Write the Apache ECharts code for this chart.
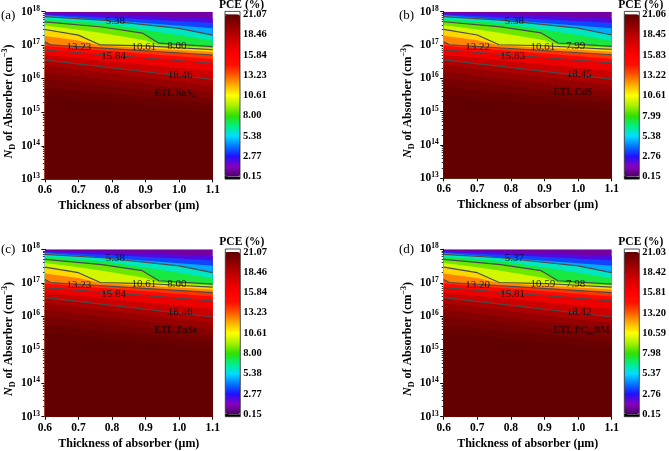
<!DOCTYPE html>
<html><head><meta charset="utf-8">
<script src="https://cdn.jsdelivr.net/npm/echarts@6/dist/echarts.min.js"></script>
<style>html,body{margin:0;padding:0;background:#fff}#c{width:669px;height:451px}</style>
</head><body><div id="c"></div>
<script>
// ---------------- data ----------------
const thicknessTicks = [0.6, 0.7, 0.8, 0.9, 1.0, 1.1];          // µm
const ndRange = [1e13, 1e18];                                   // cm^-3
const panelLetters = ['(a)', '(b)', '(c)', '(d)'];
const etlNames = [['ETL SnS', '2', ''], ['ETL CdS', '', ''], ['ETL ZnSe', '', ''], ['ETL PC', '60', 'BM']];
const pceTicksA = [0.15, 2.77, 5.38, 8.00, 10.61, 13.23, 15.84, 18.46, 21.07];
const pceTicksB = [0.15, 2.76, 5.38, 7.99, 10.61, 13.22, 15.83, 18.45, 21.06];
const pceTicksC = [0.15, 2.77, 5.38, 8.00, 10.61, 13.23, 15.84, 18.46, 21.07];
const pceTicksD = [0.15, 2.76, 5.37, 7.98, 10.59, 13.20, 15.81, 18.42, 21.03];
const pceTicks = [pceTicksA, pceTicksB, pceTicksC, pceTicksD];

// iso-PCE lines: [thickness (µm), N_D (cm^-3)]
const isoTop  = [[0.6, 1e18], [1.1, 1e18]];
const iso1_5  = [[0.6, 9.1e17], [0.85, 7.9e17], [1.1, 6.3e17]];
const iso2_8  = [[0.6, 8.3e17], [0.85, 6.3e17], [1.1, 4.6e17]];
const iso4_1  = [[0.6, 7.8e17], [0.85, 5.0e17], [1.1, 3.2e17]];
const iso5_4  = [[0.6, 7.1e17], [0.77, 5.6e17], [1.0, 3.2e17], [1.1, 2.0e17]];
const iso6_7  = [[0.6, 6.0e17], [0.77, 4.5e17], [1.0, 2.0e17], [1.1, 1.35e17]];
const iso8_0  = [[0.6, 5.0e17], [0.77, 3.5e17], [0.89, 2.3e17], [0.94, 1.15e17], [1.1, 9.1e16]];
const iso9_3  = [[0.6, 3.9e17], [0.7, 2.9e17], [0.77, 2.3e17], [0.9, 1.38e17], [0.94, 1.0e17], [1.1, 8.3e16]];
const iso10_6 = [[0.6, 2.95e17], [0.7, 2.0e17], [0.765, 1.02e17], [0.9, 9.5e16], [1.1, 7.4e16]];
const iso11_9 = [[0.6, 1.9e17], [0.7, 1.38e17], [0.765, 9.8e16], [1.1, 6.3e16]];
const iso13_2 = [[0.6, 1.26e17], [0.617, 1.02e17], [1.1, 5.1e16]];
const iso14_5 = [[0.6, 9.5e16], [1.1, 3.9e16]];
const iso15_8 = [[0.6, 7.2e16], [1.1, 2.9e16]];
const iso17_2 = [[0.6, 5.1e16], [1.1, 1.66e16]];
const iso18_5 = [[0.6, 3.6e16], [1.1, 9.5e15]];
const iso19_1 = [[0.6, 2.5e16], [1.1, 6.3e15]];
const iso19_8 = [[0.6, 1.6e16], [1.1, 4.0e15]];
const iso20_2 = [[0.6, 1.0e16], [1.1, 2.6e15]];
const iso20_6 = [[0.6, 5.6e15], [1.1, 1.8e15]];
const iso20_9 = [[0.6, 3.2e15], [1.1, 1.1e15]];
const bandLines = [isoTop, iso1_5, iso2_8, iso4_1, iso5_4, iso6_7, iso8_0, iso9_3, iso10_6, iso11_9, iso13_2,
                   iso14_5, iso15_8, iso17_2, iso18_5, iso19_1, iso19_8, iso20_2, iso20_6, iso20_9];
const bandLevels = [0.6, 1.46, 2.77, 4.08, 5.38, 6.69, 8.00, 9.30, 10.61, 11.92, 13.23,
                    14.53, 15.84, 17.15, 18.46, 19.1, 19.77, 20.2, 20.6, 20.9];   // PCE (%) on each line
const floorPCE = 21.0;                                                           // PCE below the last line
const majorLines = [iso5_4, iso8_0, iso10_6, iso13_2, iso15_8, iso18_5];
const majorTickIndex = [2, 3, 4, 5, 6, 7];
const contourLabelAt = [[0.81, 5.3e17], [0.993, 9.1e16], [0.895, 8.9e16], [0.701, 8.6e16], [0.805, 4.6e16], [1.003, 1.3e16]];
const etlLabelAt = [0.927, 3.7e15];

// ---------------- style ----------------
const pceColors = ['#4a0064', '#8800c0', '#2010ff', '#0078ff', '#00dcff', '#00f080', '#30e000', '#a8f000', '#ffff00',
                   '#ffb000', '#ff5a00', '#ff1000', '#ff0000', '#e00000', '#b80000', '#8c0000', '#600000'];
const SERIF = '"Liberation Serif","Times New Roman",serif';
const layout = [
  {x: 44.3, y: 11.7, w: 168.4, h: 167.6, bx: 225, letterX: 1, letterY: 16, pceY: 5},
  {x: 443.7, y: 11.7, w: 168, h: 166.6, bx: 624.3, letterX: 399, letterY: 16, pceY: 5},
  {x: 44.3, y: 249.3, w: 168.4, h: 167.4, bx: 225.3, letterX: 1, letterY: 249.7, pceY: 241.7},
  {x: 443.7, y: 249.3, w: 168, h: 167.4, bx: 624.3, letterX: 399, letterY: 249.7, pceY: 241.7}
];
const BAR_W = 15, BAR_H = 162.4;

function hexToRgb(h) { return [1, 3, 5].map(i => parseInt(h.slice(i, i + 2), 16)); }
function colorOf(v, ticks) {
  const lo = ticks[0], hi = ticks[ticks.length - 1], n = pceColors.length - 1;
  let t = Math.max(0, Math.min(n, (v - lo) / (hi - lo) * n));
  const i = Math.min(Math.floor(t), n - 1), f = t - i;
  const a = hexToRgb(pceColors[i]), b = hexToRgb(pceColors[i + 1]);
  return 'rgb(' + a.map((c, k) => Math.round(c + (b[k] - c) * f)).join(',') + ')';
}
// log-axis minor tick marks (2..9 of every decade) – axis decoration only
const minorTickValues = [];
for (let e = 13; e < 18; e++) for (let m = 2; m <= 9; m++) minorTickValues.push(m * Math.pow(10, e));

const grids = [], xAxes = [], yAxes = [], series = [], visualMaps = [], graphics = [];
const axisFont = {fontFamily: SERIF, fontWeight: 'bold', color: '#000'};

layout.forEach((L, p) => {
  grids.push({left: L.x, top: L.y, width: L.w, height: L.h, containLabel: false});
  xAxes.push({
    type: 'value', gridIndex: p, min: thicknessTicks[0], max: thicknessTicks[thicknessTicks.length - 1], interval: 0.1,
    axisLine: {show: true, onZero: false, lineStyle: {color: '#000', width: 1}},
    axisTick: {show: true, length: 3, lineStyle: {color: '#000'}},
    splitLine: {show: false},
    axisLabel: Object.assign({fontSize: 11.5, margin: 5, formatter: v => v.toFixed(1)}, axisFont),
    name: 'Thickness of absorber (μm)', nameLocation: 'middle', nameGap: 21,
    nameTextStyle: Object.assign({fontSize: 12}, axisFont)
  });
  yAxes.push({
    type: 'log', logBase: 10, gridIndex: p, min: ndRange[0], max: ndRange[1],
    axisLine: {show: true, onZero: false, lineStyle: {color: '#000', width: 1}},
    axisTick: {show: true, length: 3.5, lineStyle: {color: '#000'}},
    splitLine: {show: false},
    axisLabel: {margin: 5, formatter: v => '{b|10}{s|' + Math.round(Math.log10(v)) + '}',
      rich: {b: Object.assign({fontSize: 11.5, lineHeight: 14}, axisFont),
             s: Object.assign({fontSize: 7.5, lineHeight: 7, verticalAlign: 'top'}, axisFont)}},
    name: '{i|N}{d|D}{t| of Absorber (cm}{u|−3}{t|)}', nameLocation: 'middle', nameGap: 24,
    nameTextStyle: {padding: [0, 12, 0, 0], rich: {
      i: Object.assign({fontSize: 12, fontStyle: 'italic', lineHeight: 16}, axisFont),
      t: Object.assign({fontSize: 12, lineHeight: 16}, axisFont),
      d: Object.assign({fontSize: 8, lineHeight: 8, verticalAlign: 'bottom'}, axisFont),
      u: Object.assign({fontSize: 8, lineHeight: 8, verticalAlign: 'top'}, axisFont)}}
  });
});

// colour-bar axes
layout.forEach((L, p) => {
  const ticks = pceTicks[p];
  const g = 4 + p;
  grids.push({left: L.bx, top: L.y + 2.6, width: BAR_W, height: BAR_H});
  xAxes.push({type: 'value', gridIndex: g, show: false, min: 0, max: 1});
  yAxes.push({
    type: 'value', gridIndex: g, min: ticks[0], max: ticks[ticks.length - 1], position: 'right',
    axisLine: {show: false}, splitLine: {show: false},
    axisTick: {show: true, length: 3, customValues: ticks, lineStyle: {color: '#000'}},
    axisLabel: Object.assign({fontSize: 10.5, margin: 3, customValues: ticks, formatter: v => v.toFixed(2)}, axisFont)
  });
  visualMaps.push({
    type: 'continuous', min: ticks[0], max: ticks[ticks.length - 1], calculable: false, seriesIndex: [],
    orient: 'vertical', left: L.bx, top: L.y + 2.6, itemWidth: BAR_W, itemHeight: BAR_H, padding: 0,
    hoverLink: false, inRange: {color: pceColors}
  });
  graphics.push(
    {type: 'rect', z: 1, shape: {x: L.bx, y: L.y - 0.3, width: BAR_W, height: 2.9}, style: {fill: '#fff'}},
    {type: 'rect', z: 1, shape: {x: L.bx, y: L.y + 2.6 + BAR_H, width: BAR_W, height: 2.4}, style: {fill: '#000'}},
    {type: 'rect', z: 100, shape: {x: L.bx, y: L.y - 0.3, width: BAR_W, height: BAR_H + 5.3}, style: {fill: 'none', stroke: '#222', lineWidth: 0.8}},
    {type: 'text', z: 100, x: L.bx - 6, y: L.pceY, style: {text: 'PCE (%)', fontFamily: SERIF, fontWeight: 'bold', fontSize: 11.5, fill: '#000', verticalAlign: 'middle'}},
    {type: 'text', z: 100, x: L.letterX, y: L.letterY, style: {text: panelLetters[p], fontFamily: SERIF, fontSize: 13, fill: '#000', verticalAlign: 'middle'}}
  );
});

// minor tick overlay axes for the log N_D axes
layout.forEach((L, p) => {
  yAxes.push({
    type: 'log', logBase: 10, gridIndex: p, min: ndRange[0], max: ndRange[1], position: 'left',
    axisLine: {show: false}, splitLine: {show: false}, axisLabel: {show: false},
    axisTick: {show: true, length: 2, customValues: minorTickValues, lineStyle: {color: '#000', width: 0.8}}
  });
});

// filled PCE bands and contour lines
layout.forEach((L, p) => {
  const ticks = pceTicks[p];
  bandLines.forEach((pts, i) => {
    const v = i + 1 < bandLevels.length ? (bandLevels[i] + bandLevels[i + 1]) / 2 : floorPCE;
    series.push({type: 'line', xAxisIndex: p, yAxisIndex: p, data: pts, symbol: 'none', silent: true, z: 2,
      lineStyle: {width: 0, opacity: 0}, areaStyle: {origin: 'start', opacity: 1, color: colorOf(v, pceTicksA)}});
  });
  majorLines.forEach(pts => {
    series.push({type: 'line', xAxisIndex: p, yAxisIndex: p, data: pts, symbol: 'none', silent: true, z: 3,
      lineStyle: {width: 1.2, color: '#4a4a4a'}});
  });
  series.push({type: 'scatter', xAxisIndex: p, yAxisIndex: p, symbolSize: 0, silent: true, z: 4,
    data: contourLabelAt.map((pt, j) => ({value: pt, name: ticks[majorTickIndex[j]].toFixed(2)})),
    label: {show: true, position: 'inside', formatter: '{b}', fontFamily: SERIF, fontSize: 11, color: '#000'}});
  const e = etlNames[p];
  series.push({type: 'scatter', xAxisIndex: p, yAxisIndex: p, symbolSize: 0, silent: true, z: 4,
    data: [{value: etlLabelAt}],
    label: {show: true, position: 'inside', align: 'left',
      formatter: '{t|' + e[0] + '}' + (e[1] ? '{s|' + e[1] + '}' : '') + (e[2] ? '{t|' + e[2] + '}' : ''),
      rich: {t: {fontFamily: SERIF, fontWeight: 'bold', fontSize: 9.5, color: '#1a0000', lineHeight: 12},
             s: {fontFamily: SERIF, fontWeight: 'bold', fontSize: 6.5, color: '#1a0000', lineHeight: 6, verticalAlign: 'bottom'}}}});
});

const chart = echarts.init(document.getElementById('c'), null, {renderer: 'canvas', width: 669, height: 451});
chart.setOption({
  animation: false,
  backgroundColor: '#fff',
  grid: grids, xAxis: xAxes, yAxis: yAxes, visualMap: visualMaps, series: series, graphic: graphics
});
</script>
</body></html>
